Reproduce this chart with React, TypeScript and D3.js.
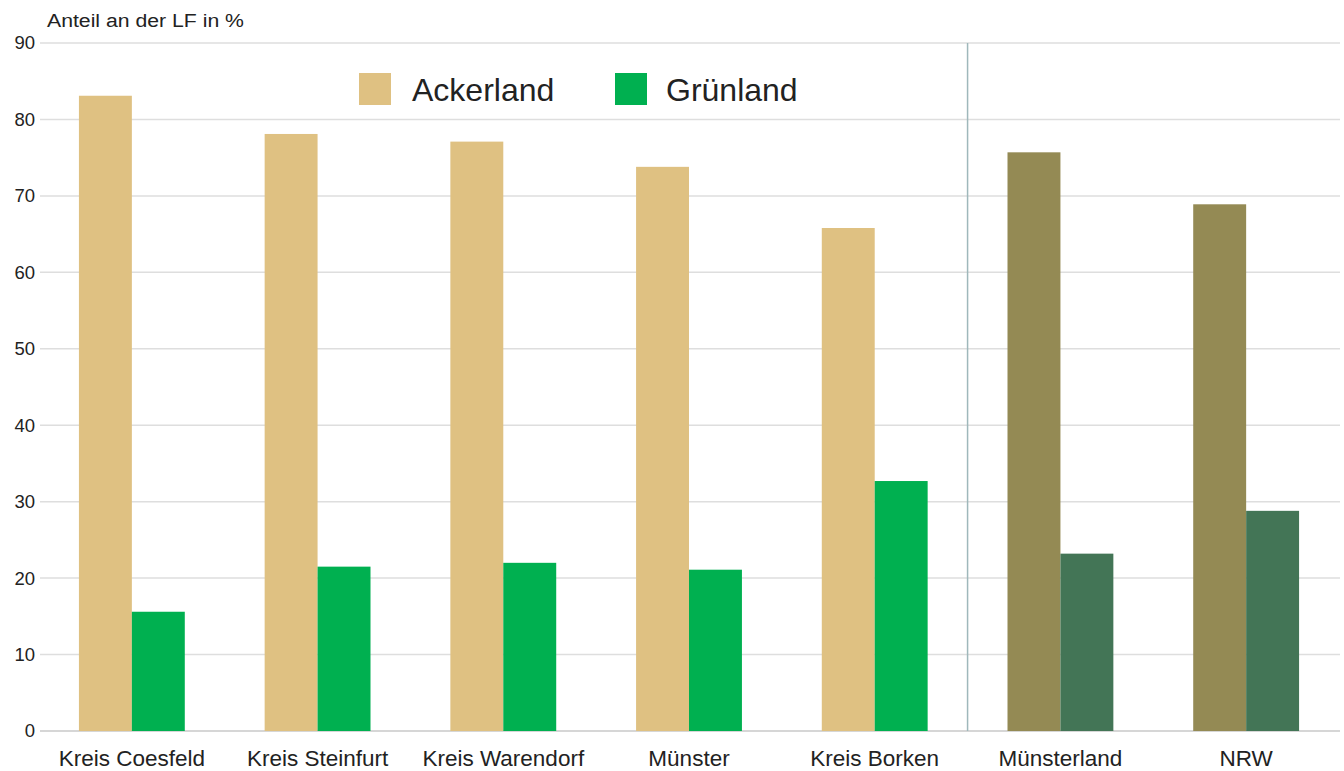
import React from "react";
import * as d3 from "d3";

const categories = [
  "Kreis Coesfeld",
  "Kreis Steinfurt",
  "Kreis Warendorf",
  "Münster",
  "Kreis Borken",
  "Münsterland",
  "NRW",
];
const ackerland = [83.1, 78.1, 77.1, 73.8, 65.8, 75.7, 68.9];
const gruenland = [15.6, 21.5, 22.0, 21.1, 32.7, 23.2, 28.8];
const summaryCategories = ["Münsterland", "NRW"];
const yTicks = [0, 10, 20, 30, 40, 50, 60, 70, 80, 90];

const colors = {
  acker: "#dfc182",
  gruen: "#00b050",
  ackerSum: "#948a54",
  gruenSum: "#437556",
};

const W = 1344;
const H = 771;
const FONT = "'Liberation Sans', Arial, sans-serif";

export default function App() {
  const x = d3
    .scaleBand<string>()
    .domain(categories)
    .range([39, 1339])
    .paddingInner(0.43)
    .paddingOuter(0.215);
  const y = d3.scaleLinear().domain([0, 90]).range([731, 43]);
  const half = x.bandwidth() / 2;

  // divider between the districts and the two summary regions
  const sepX = (x("Kreis Borken")! + x.bandwidth() + x("Münsterland")!) / 2;

  return (
    <svg
      width={W}
      height={H}
      style={{ position: "absolute", left: 0, top: 0, background: "#fff" }}
      fontFamily={FONT}
    >
      <rect width={W} height={H} fill="#fff" />
      <text x={47} y={27} fontSize={18} fill="#222" textLength={197} lengthAdjust="spacingAndGlyphs">
        Anteil an der LF in %
      </text>

      {yTicks.map((t) => (
        <g key={t}>
          <line
            x1={40}
            x2={1340}
            y1={y(t)}
            y2={y(t)}
            stroke={t === 0 ? "#c8c8c8" : "#dedede"}
            strokeWidth={1.5}
          />
          <text
            x={35}
            y={y(t)}
            dy="0.35em"
            textAnchor="end"
            fontSize={18.5}
            fill="#222"
          >
            {t}
          </text>
        </g>
      ))}

      <line
        x1={sepX}
        x2={sepX}
        y1={y(90)}
        y2={y(0)}
        stroke="#9fb8bb"
        strokeWidth={1.5}
      />

      {categories.map((c, i) => {
        const isSum = summaryCategories.includes(c);
        const x0 = x(c)!;
        return (
          <g key={c}>
            <rect
              x={x0}
              y={y(ackerland[i])}
              width={half}
              height={y(0) - y(ackerland[i])}
              fill={isSum ? colors.ackerSum : colors.acker}
            />
            <rect
              x={x0 + half}
              y={y(gruenland[i])}
              width={half}
              height={y(0) - y(gruenland[i])}
              fill={isSum ? colors.gruenSum : colors.gruen}
            />
            <text
              x={x0 + half}
              y={766}
              textAnchor="middle"
              fontSize={22.5}
              fill="#222"
            >
              {c}
            </text>
          </g>
        );
      })}

      <g>
        <rect x={359} y={73} width={32} height={32} fill={colors.acker} />
        <text x={412} y={101} fontSize={32} fill="#222">
          Ackerland
        </text>
        <rect x={615} y={73} width={32} height={32} fill={colors.gruen} />
        <text x={666} y={101} fontSize={32} fill="#222">
          Grünland
        </text>
      </g>
    </svg>
  );
}
